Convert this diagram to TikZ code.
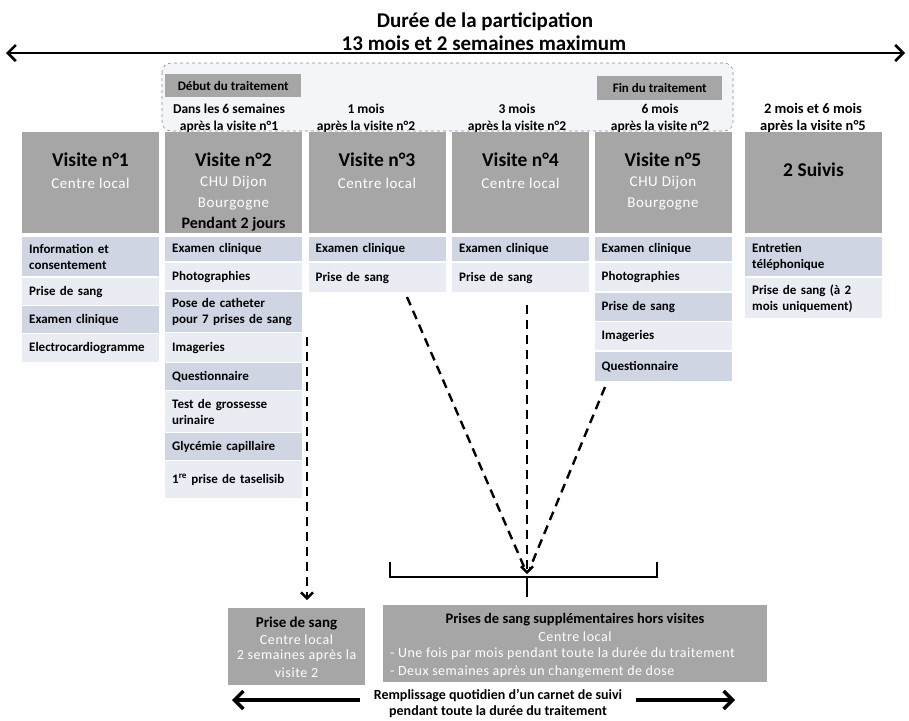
\documentclass[tikz,border=0pt]{standalone}
\usepackage{fontspec}
\setmainfont{Carlito}
\usetikzlibrary{arrows.meta,calc}
\definecolor{hdrgray}{HTML}{A6A6A6}
\definecolor{rowdk}{HTML}{CFD5E3}
\definecolor{rowlt}{HTML}{E9ECF3}
\definecolor{zonefill}{HTML}{F4F5F9}
\definecolor{zoneline}{HTML}{7F8FA9}
\begin{document}
\begin{tikzpicture}[x=1pt,y=-1pt,
  hdr/.style={fill=hdrgray, anchor=north west, minimum width=137pt, minimum height=101pt, inner sep=0pt},
  row/.style={fill=#1, anchor=north west, text width=123pt, inner xsep=7pt, inner ysep=0pt, align=left, font=\fontsize{13}{16}\selectfont\bfseries},
  htitle/.style={font=\fontsize{19.5}{22}\selectfont\bfseries, inner sep=0pt},
  hsub/.style={font=\fontsize{15}{18}\selectfont\addfontfeature{LetterSpace=4}, text=white, inner sep=0pt},
  wsub/.style={font=\fontsize{14}{17}\selectfont\addfontfeature{LetterSpace=4}, text=white, inner sep=0pt},
  hbold/.style={font=\fontsize{16}{18}\selectfont\bfseries, inner sep=0pt},
  timing/.style={font=\fontsize{13.5}{17}\selectfont\bfseries, align=center, inner sep=0pt},
  tag/.style={fill=hdrgray, font=\fontsize{13}{15}\selectfont\bfseries, inner sep=0pt},
  bigarr/.style={line width=2.6pt, {Straight Barb[length=8pt,width=16pt]}-{Straight Barb[length=8pt,width=16pt]}},
  botarr/.style={line width=3.4pt, -{Straight Barb[length=9pt,width=18pt]}},
  dasharr/.style={line width=2.4pt, dash pattern=on 9pt off 6pt},
  dashhead/.style={dasharr, -{Straight Barb[length=6pt,width=12pt]}},
  bracket/.style={line width=2.4pt},
  bbox/.style={fill=hdrgray, anchor=north west, inner sep=0pt}
]
\useasboundingbox (0,0) rectangle (909,720);

% title and overall duration arrow
\node[font=\fontsize{21}{24}\selectfont\bfseries, inner sep=0pt] (title) at (485,22) {Durée de la participation};
\node[font=\fontsize{21}{24}\selectfont\bfseries, inner sep=0pt, anchor=base] (dur) at (484,50) {13 mois et 2 semaines maximum};
\coordinate (durL) at (6,53);
\coordinate (durR) at (905,53);
\draw[bigarr] (durL) -- (durR);

% treatment zone
\draw[zoneline, fill=zonefill, dashed, line width=0.6pt, rounded corners=9pt] (162,63) rectangle (733,131);
\node[tag, minimum width=136pt, minimum height=23pt, anchor=north west] (debut) at (165,74) {Début du traitement};
\node[tag, minimum width=125pt, minimum height=24pt, anchor=north west] (fin) at (597,76) {Fin du traitement};

% timing labels
\node[timing] (t2) at (229,118.5) {Dans les 6 semaines\\après la visite n°1};
\node[timing] (t3) at (366,118.5) {1 mois\\après la visite n°2};
\node[timing] (t4) at (517,118.5) {3 mois\\après la visite n°2};
\node[timing] (t5) at (660,118.5) {6 mois\\après la visite n°2};
\node[timing, font=\fontsize{14.5}{17}\selectfont\bfseries] (t6) at (813,118.5) {2 mois et 6 mois\\après la visite n°5};

% headers
\node[hdr] (h1) at (22,132) {};
\node[hdr] (h2) at (165,132) {};
\node[hdr] (h3) at (308.5,132) {};
\node[hdr] (h4) at (452,132) {};
\node[hdr] (h5) at (594.5,132) {};
\node[hdr] (h6) at (745,132) {};

\node[htitle] (h1t) at (90.5,160) {Visite n°1};
\node[hsub] (h1s) at (90.5,183) {Centre local};
\node[htitle] (h2t) at (233.5,160) {Visite n°2};
\node[hsub] (h2s) at (233.5,183) {CHU Dijon};
\node[hsub] (h2u) at (233.5,204) {Bourgogne};
\node[hbold] (h2b) at (233.5,224) {Pendant 2 jours};
\node[htitle] (h3t) at (377,160) {Visite n°3};
\node[hsub] (h3s) at (377,183) {Centre local};
\node[htitle] (h4t) at (520.5,160) {Visite n°4};
\node[hsub] (h4s) at (520.5,183) {Centre local};
\node[htitle] (h5t) at (663,160) {Visite n°5};
\node[hsub] (h5s) at (663,183) {CHU Dijon};
\node[hsub] (h5u) at (663,204) {Bourgogne};
\node[htitle] (h6t) at (813.5,170) {2 Suivis};

% column 1
\node[row=rowdk, minimum height=39pt] (r1a) at (22,237) {Information et\\consentement};
\node[row=rowlt, minimum height=27pt] (r1b) at (22,278) {Prise de sang};
\node[row=rowdk, minimum height=27pt] (r1c) at (22,306) {Examen clinique};
\node[row=rowlt, minimum height=28pt] (r1d) at (22,334) {Electrocardiogramme};

% column 2
\node[row=rowdk, minimum height=24pt] (r2a) at (165,237) {Examen clinique};
\node[row=rowlt, minimum height=27pt] (r2b) at (165,263) {Photographies};
\node[row=rowdk, minimum height=40pt] (r2c) at (165,292) {Pose de catheter\\pour 7 prises de sang};
\node[row=rowlt, minimum height=29pt] (r2d) at (165,333) {Imageries};
\node[row=rowdk, minimum height=27pt] (r2e) at (165,363) {Questionnaire};
\node[row=rowlt, minimum height=41pt] (r2f) at (165,391) {Test de grossesse\\urinaire};
\node[row=rowdk, minimum height=27pt] (r2g) at (165,433) {Glycémie capillaire};
\node[row=rowlt, minimum height=37pt] (r2h) at (165,461) {1\textsuperscript{re} prise de taselisib\\[2pt]};

% column 3
\node[row=rowdk, minimum height=24pt] (r3a) at (308.5,237) {Examen clinique};
\node[row=rowlt, minimum height=29pt] (r3b) at (308.5,263) {Prise de sang};

% column 4
\node[row=rowdk, minimum height=24pt] (r4a) at (452,237) {Examen clinique};
\node[row=rowlt, minimum height=29pt] (r4b) at (452,263) {Prise de sang};

% column 5
\node[row=rowdk, minimum height=24pt] (r5a) at (594.5,237) {Examen clinique};
\node[row=rowlt, minimum height=28pt] (r5b) at (594.5,263) {Photographies};
\node[row=rowdk, minimum height=28pt] (r5c) at (594.5,293) {Prise de sang};
\node[row=rowlt, minimum height=28pt] (r5d) at (594.5,322) {Imageries};
\node[row=rowdk, minimum height=29pt] (r5e) at (594.5,352) {Questionnaire};

% column 6
\node[row=rowdk, minimum height=39pt] (r6a) at (745,237) {Entretien\\téléphonique};
\node[row=rowlt, minimum height=40pt] (r6b) at (745,278) {Prise de sang (à 2\\mois uniquement)};

% bottom boxes
\node[bbox, minimum width=137pt, minimum height=77pt] (ps) at (228,608) {};
\node[font=\fontsize{15}{17}\selectfont\bfseries, inner sep=0pt] (psT) at (296.5,623) {Prise de sang};
\node[wsub] (psA) at (296.5,640) {Centre local};
\node[wsub] (psB) at (296.5,656) {2 semaines après la};
\node[wsub] (psC) at (296.5,673) {visite 2};

\node[bbox, minimum width=384pt, minimum height=77pt] (hv) at (383,605) {};
\node[font=\fontsize{14.5}{17}\selectfont\bfseries, inner sep=0pt] (hvT) at (575,620) {Prises de sang supplémentaires hors visites};
\node[wsub] (hvA) at (575,637) {Centre local};
\node[wsub, font=\fontsize{14}{17}\selectfont\addfontfeature{LetterSpace=3.5}, anchor=west] (hvB) at (390,654) {- Une fois par mois pendant toute la durée du traitement};
\node[wsub, font=\fontsize{14}{17}\selectfont\addfontfeature{LetterSpace=3.5}, anchor=west] (hvC) at (390,672) {- Deux semaines après un changement de dose};

% dashed connectors
\coordinate (d2s) at (307,337);
\coordinate (d2e) at (307,600);
\draw[dashhead] (d2s) -- (d2e);
\coordinate (conv) at (527,574);
\coordinate (d3s) at (407,297);
\coordinate (d4s) at (527,305);
\coordinate (d5s) at (605,387);
\draw[dasharr] (d3s) -- ($(conv)+(-2,-5)$);
\draw[dasharr] (d5s) -- ($(conv)+(3,-6)$);
\draw[dashhead] (d4s) -- (conv);

% bracket
\coordinate (brL) at (390,562);
\coordinate (brR) at (657,562);
\coordinate (brM) at (527,577);
\draw[bracket] (brL) -- (brL |- brM) -- (brR |- brM) -- (brR);
\draw[bracket] (brM) -- (brM |- 0,597);

% bottom arrows and caption
\node[font=\fontsize{14}{16}\selectfont\bfseries, align=center, inner sep=0pt] (carnet) at (498,703) {Remplissage quotidien d'un carnet de suivi\\pendant toute la durée du traitement};
\coordinate (bl1) at (360,700);
\coordinate (bl2) at (232,700);
\coordinate (br1) at (636,700);
\coordinate (br2) at (735,700);
\draw[botarr] (bl1) -- (bl2);
\draw[botarr] (br1) -- (br2);
\end{tikzpicture}
\end{document}
